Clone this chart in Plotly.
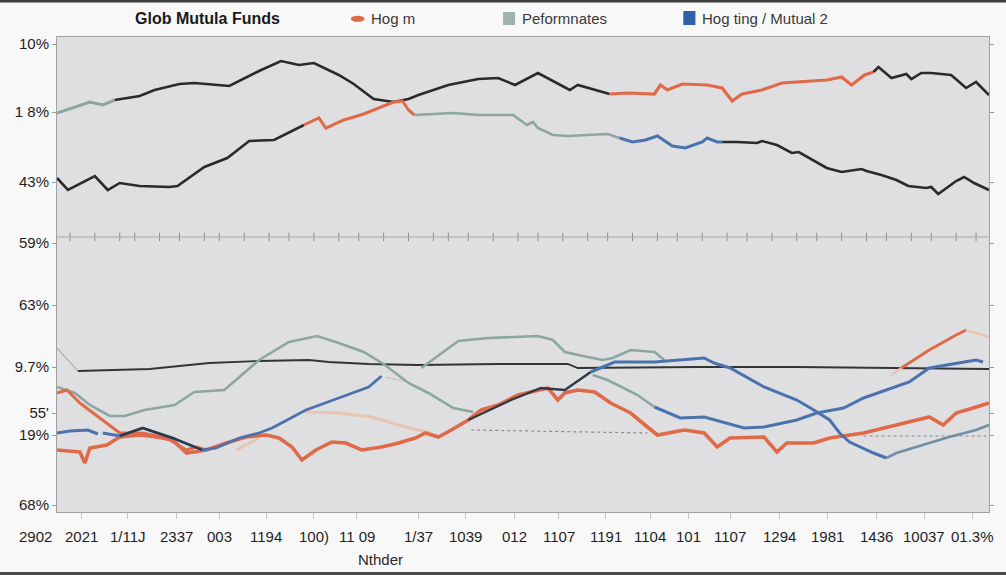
import plotly.graph_objects as go

# ---------------- data (x = period index, y = value %) ----------------
# top panel, upper line (segments by colour)
up_green_x = [5.7, 7.5, 9.0, 10.3, 11.5]
up_green_y = [79.8, 81, 82, 81.4, 82.4]
up_black1_x = [11.5, 14.0, 15.5, 18.0, 19.5, 23.0, 26.2, 28.2, 30.0, 31.5, 34.0, 35.5, 37.5, 39.5, 41.0, 42.0, 45.0, 46.0, 48.0, 50.0, 51.7, 54.0, 57.2, 58.0, 61.2]
up_black1_y = [82.4, 83.2, 84.4, 85.6, 85.8, 85.2, 88.4, 90.2, 89.4, 89.8, 87.4, 85.6, 82.6, 82, 82.6, 83.4, 85.4, 85.8, 86.6, 86.8, 85.4, 87.8, 84.4, 85.4, 83.6]
up_orange_x = [61.2, 63.0, 65.7, 66.3, 67.0, 68.5, 71.0, 72.5, 73.5, 74.5, 76.5, 78.5, 80.0, 83.0, 84.5, 85.5, 86.8, 87.7]
up_orange_y = [83.6, 83.8, 83.6, 85.4, 84.4, 85.6, 85.4, 84.8, 82.2, 83.6, 84.4, 85.8, 86, 86.4, 87, 85.4, 87.4, 88]
up_black2_x = [87.7, 88.2, 89.5, 91.0, 91.5, 92.5, 93.5, 95.5, 97.0, 98.0, 99.3]
up_black2_y = [88, 89, 86.8, 87.6, 86.6, 87.8, 87.8, 87.4, 84.8, 86, 83.4]

# top panel, lower line
lo_black1_x = [5.7, 6.8, 9.5, 10.8, 12.0, 14.0, 17.0, 17.8, 20.5, 22.8, 25.0, 27.5, 30.5]
lo_black1_y = [66.8, 64.4, 67.2, 64.4, 65.8, 65.2, 65, 65.2, 69, 70.8, 74.2, 74.4, 77.4]
lo_orange_x = [30.5, 32.0, 32.7, 34.5, 36.5, 38.0, 39.5, 40.4, 41.0, 41.6]
lo_orange_y = [77.4, 78.8, 76.8, 78.4, 79.6, 80.8, 82, 82.2, 80.4, 79.4]
lo_green_x = [41.6, 44.0, 45.5, 48.0, 51.5, 52.9, 53.5, 54.0, 55.5, 57.0, 61.0, 62.2]
lo_green_y = [79.4, 79.6, 79.8, 79.4, 79.4, 77.4, 78, 76.8, 75.4, 75.2, 75.6, 74.8]
lo_blue_x = [62.2, 63.5, 64.8, 66.0, 67.5, 68.8, 70.5, 71.0, 72.0, 72.5]
lo_blue_y = [74.8, 74, 74.4, 75.2, 73.2, 72.8, 74, 74.8, 74, 74]
lo_black2_x = [72.5, 74.0, 76.0, 76.5, 78.0, 79.5, 80.2, 83.0, 84.5, 86.5, 87.0, 88.5, 90.0, 91.2, 93.0, 93.5, 94.2, 96.0, 96.8, 97.8, 99.3]
lo_black2_y = [74, 74, 73.8, 74.2, 73.4, 71.8, 72, 68.8, 68, 68.6, 68.2, 67.4, 66.4, 65.2, 64.8, 65, 63.6, 66.2, 67, 65.8, 64.4]

# bottom panel
flat_lead_x = [5.7, 7.8]
flat_lead_y = [32.8, 28.2]
flat_x = [7.8, 15, 21, 26, 31, 33, 37, 42, 50, 57, 58, 70, 80, 90.5, 99.3]
flat_y = [28.2, 28.6, 29.8, 30.2, 30.4, 30, 29.6, 29.4, 29.6, 29.6, 28.8, 29, 29, 28.8, 28.6]

perf_a_x = [5.7, 7.5, 9, 11, 12.5, 14.5, 17.5, 19.5, 22.5, 26, 29, 31.8, 34, 36.5, 38.5, 41, 43, 45.5, 47.5]
perf_a_y = [25, 23.8, 21.4, 19.2, 19.2, 20.4, 21.4, 24, 24.4, 30.4, 34, 35.2, 33.8, 32, 29.6, 25.8, 23.8, 20.8, 20]
perf_b_x = [42.3, 44, 46, 49, 54, 55.5, 56.7, 59, 60.5, 61.5, 63.3, 65.7, 66.7]
perf_b_y = [28.8, 31.2, 34.2, 34.8, 35.2, 34.4, 32, 31, 30.4, 30.8, 32.4, 32, 30.4]
perf_c_x = [59.5, 61, 64, 65.7]
perf_c_y = [27.4, 26.4, 23.4, 21]

mut_a_x = [5.7, 7, 8.8, 9.8]
mut_a_y = [15.8, 16.2, 16.4, 15.6]
mut_b_x = [10.3, 12, 14.3, 17.3, 20.3, 21.7, 24, 26, 27.3, 30.7, 34, 37, 38.3]
mut_b_y = [15.8, 15.2, 16.8, 14.8, 12.4, 12.8, 14.8, 15.8, 16.8, 20.4, 22.8, 25, 27.2]
mut_dark_x = [12, 14.3, 17.3, 20.3]
mut_dark_y = [15.2, 16.8, 14.8, 12.4]
mut_c_x = [65.7, 68.3, 70.7, 74.7, 76.7, 80, 82, 84.7, 86.7, 90, 91.3, 93.3, 95, 98, 98.7]
mut_c_y = [21, 18.8, 19, 16.8, 17, 18.4, 19.8, 20.8, 22.8, 25, 26, 28.8, 29.4, 30.4, 30]
mut_d_dark_x = [47, 51.3, 54.3, 56.7, 59.3]
mut_d_dark_y = [18.4, 22.4, 24.8, 24.4, 28]
mut_d_x = [59.3, 61.7, 65.7, 70.7, 71.7, 73.3, 76.7, 80, 81.7, 83.3, 84.3, 85.3, 87.7, 89]
mut_d_y = [28, 30, 30, 30.8, 29.8, 28.8, 25, 22.4, 20.4, 18.4, 15.8, 14, 11.8, 10.8]
mut_d_end_x = [89, 90, 93.3, 95.3, 98, 99.3]
mut_d_end_y = [10.8, 11.8, 13.8, 15, 16.4, 17.4]

hog_a_x = [5.7, 6.7, 8, 10.7, 12, 14.3, 16.7, 18.7, 19.7, 20.7]
hog_a_y = [23.8, 24.4, 21.8, 17.8, 15.8, 15.8, 14.8, 12.4, 13, 12.4]
hog_b_x = [5.7, 8, 8.5, 9, 10.7, 12, 14, 15.7, 17.3, 18.7, 20.7, 22.7, 24.7, 26.7, 28, 29.3, 30.3, 31.7, 33.3, 34.7, 36.3, 38.3, 40, 41.7, 42.7, 44, 45.3, 47, 48.3, 50, 52, 55, 56, 56.7, 58, 59.7, 61.3, 63.3, 65, 66, 68.7, 70.7, 72, 73.3, 76.7, 78, 79, 81.7, 83.3, 86.7, 90, 92, 93.3, 94.7, 96, 97.7, 99.3]
hog_b_y = [12.4, 12, 9.8, 12.8, 13.4, 15, 15.4, 15, 14.4, 11.8, 12.4, 13.8, 15, 15.4, 14.8, 13, 10.4, 12.4, 14, 13.8, 12.4, 13, 13.8, 14.8, 15.8, 15, 16.4, 18.4, 20.4, 21.4, 23.4, 24.8, 22.4, 23.8, 24.4, 24, 21.8, 19.8, 17, 15.4, 16.4, 15.8, 13, 14.8, 15, 12, 13.8, 13.8, 14.8, 15.8, 17.4, 18.4, 19, 17.4, 19.8, 20.8, 21.8]
hog_c_x = [90.5, 93.3, 96, 97]
hog_c_y = [28.8, 32.4, 35.4, 36.4]
tan_a_x = [89.5, 90.5]
tan_a_y = [27.4, 28.8]
tan_b_x = [97, 99.3]
tan_b_y = [36.4, 35]
tan_c_x = [30.7, 34, 37.3, 40.7, 43.3]
tan_c_y = [20, 19.8, 19, 17, 15.8]
tan_d_x = [23.7, 26]
tan_d_y = [12.4, 14.8]
faint_x = [38.7, 41]
faint_y = [27, 26]
dot_a_x = [47.3, 65]
dot_a_y = [16.4, 15.8]
dot_b_x = [86.7, 99.3]
dot_b_y = [15.2, 15.2]

# separator between panels
sep_value = 55
sep_ticks = [7, 9.5, 12, 13.5, 16, 18, 20.5, 22, 24.5, 27, 29, 31.5, 34, 36, 38.5, 41, 43.5, 45, 47, 49.5, 52,
             54, 56.5, 59, 61, 63.5, 66, 68, 70.5, 73, 75, 77.5, 80, 82, 84.5, 87, 89, 91.5, 93.5, 96, 98]

# axis labels
y_tick_vals = [93.6, 80, 66, 53.8, 41.4, 29, 19.8, 15.4, 1.4]
y_tick_text = ["10%", "1 8%", "43%", "59%", "63%", "9.7%", "55'", "19%", "68%"]
x_label_pos = [3.5, 8.2, 12.8, 17.7, 22.0, 26.7, 31.5, 35.8, 42.0, 46.7, 51.6, 56.1, 60.8, 65.3, 69.1, 73.3, 78.3, 83.1, 88.0, 92.8, 97.6]
x_label_text = ["2902", "2021", "1/11J", "2337", "003", "1194", "100)", "11 09", "1/37", "1039", "012", "1107",
                "1191", "1104", "101", "1107", "1294", "1981", "1436", "10037", "01.3%"]

X_MIN, X_MAX = 5.7, 99.3

# ---------------- styles ----------------
BLACK = "#2a2a2c"
ORANGE = "#e06a48"
GREEN = "#8ca79f"
BLUE = "#4a72ad"
DARK = "#2f3946"
TAN = "#e8c4b2"
FONT_N = "Liberation Sans Narrow, Liberation Sans, sans-serif"

fig = go.Figure()

def line(x, y, color, width, dash=None):
    fig.add_trace(go.Scatter(x=x, y=y, mode="lines", showlegend=False, hoverinfo="skip",
                             line=dict(color=color, width=width, dash=dash)))

# top panel
line(up_green_x, up_green_y, GREEN, 3)
line(up_black1_x, up_black1_y, BLACK, 2.6)
line(up_orange_x, up_orange_y, ORANGE, 3.2)
line(up_black2_x, up_black2_y, BLACK, 2.6)
line(lo_black1_x, lo_black1_y, BLACK, 2.6)
line(lo_orange_x, lo_orange_y, ORANGE, 3)
line(lo_green_x, lo_green_y, GREEN, 2.6)
line(lo_blue_x, lo_blue_y, BLUE, 3)
line(lo_black2_x, lo_black2_y, BLACK, 2.6)

# bottom panel
line(flat_lead_x, flat_lead_y, "#b0b0b4", 1.2)
line(flat_x, flat_y, "#333436", 1.8)
line(dot_a_x, dot_a_y, "#8a8a8e", 1.2, dash="dot")
line(dot_b_x, dot_b_y, "#8a8a8e", 1.2, dash="dot")
line(tan_c_x, tan_c_y, TAN, 3)
line(tan_d_x, tan_d_y, TAN, 3)
line(faint_x, faint_y, "#c9c9cc", 1.5)
line(perf_a_x, perf_a_y, GREEN, 2.6)
line(perf_b_x, perf_b_y, GREEN, 2.6)
line(perf_c_x, perf_c_y, GREEN, 2.6)
line(hog_a_x, hog_a_y, ORANGE, 3)
line(hog_b_x, hog_b_y, ORANGE, 3.6)
line(mut_a_x, mut_a_y, BLUE, 3)
line(mut_b_x, mut_b_y, BLUE, 2.8)
line(mut_dark_x, mut_dark_y, DARK, 2.4)
line(mut_c_x, mut_c_y, BLUE, 3)
line(mut_d_dark_x, mut_d_dark_y, DARK, 2.4)
line(mut_d_x, mut_d_y, BLUE, 3)
line(mut_d_end_x, mut_d_end_y, "#6e8fa6", 2.8)
line(hog_c_x, hog_c_y, ORANGE, 3)
line(tan_a_x, tan_a_y, TAN, 2.5)
line(tan_b_x, tan_b_y, TAN, 2.5)

# separator ticks
fig.add_trace(go.Scatter(x=sep_ticks, y=[sep_value] * len(sep_ticks), mode="markers", showlegend=False,
                         hoverinfo="skip",
                         marker=dict(symbol="line-ns", size=6, line=dict(color="#8d8d91", width=1))))
fig.add_hline(y=sep_value, line=dict(color="#a4a4a8", width=1))

# x tick labels as annotations (the first lies left of the plot area)
for xp, t in zip(x_label_pos, x_label_text):
    fig.add_annotation(x=(xp - X_MIN) / (X_MAX - X_MIN), y=-0.052, xref="paper", yref="paper", text=t,
                       showarrow=False, font=dict(family=FONT_N, size=15, color="#1f1f1f"),
                       xanchor="center", yanchor="middle")

# axis title
fig.add_annotation(x=0.347, y=-0.101, xref="paper", yref="paper", text="Nthder", showarrow=False,
                   xanchor="center", yanchor="middle",
                   font=dict(family=FONT_N, size=15, color="#2a2a2a"))

# title and legend
fig.add_annotation(x=0.161, y=1.038, xref="paper", yref="paper", text="<b>Glob Mutula Funds</b>", showarrow=False,
                   xanchor="center", yanchor="middle", font=dict(family=FONT_N, size=16, color="#1a1a1a"))
fig.add_shape(type="circle", xref="paper", yref="paper", x0=0.3152, x1=0.3300, y0=1.0320, y1=1.0450,
              fillcolor=ORANGE, line=dict(width=0))
fig.add_annotation(x=0.3344, y=1.038, xref="paper", yref="paper", text="Hog m", showarrow=False,
                   xanchor="left", yanchor="middle", font=dict(family=FONT_N, size=15, color="#3a3a3a"))
fig.add_shape(type="rect", xref="paper", yref="paper", x0=0.4786, x1=0.4915, y0=1.0253, y1=1.0526,
              fillcolor="#9fb2ae", line=dict(width=0))
fig.add_annotation(x=0.4968, y=1.038, xref="paper", yref="paper", text="Peformnates", showarrow=False,
                   xanchor="left", yanchor="middle", font=dict(family=FONT_N, size=15, color="#3a3a3a"))
fig.add_shape(type="rect", xref="paper", yref="paper", x0=0.6720, x1=0.6850, y0=1.0253, y1=1.0547,
              fillcolor="#2f60aa", line=dict(width=0))
fig.add_annotation(x=0.6900, y=1.038, xref="paper", yref="paper", text="Hog ting / Mutual 2", showarrow=False,
                   xanchor="left", yanchor="middle", font=dict(family=FONT_N, size=15, color="#3a3a3a"))

# image frame bands top and bottom
fig.add_shape(type="line", xref="paper", yref="paper", x0=-0.07, x1=1.02, y0=1.0758, y1=1.0758,
              line=dict(color="#3c3c3e", width=3))
fig.add_shape(type="line", xref="paper", yref="paper", x0=-0.07, x1=1.02, y0=-0.1295, y1=-0.1295,
              line=dict(color="#4a4a4c", width=3))

fig.update_layout(
    width=1006, height=575,
    margin=dict(l=57, r=13, t=37, b=63),
    paper_bgcolor="#f8f8f8",
    plot_bgcolor="#dfdfe1",
    showlegend=False,
    xaxis=dict(range=[X_MIN, X_MAX], showgrid=False, zeroline=False, showline=True, linecolor="#a2a2a6",
               mirror=True, tickvals=x_label_pos, ticktext=[""] * len(x_label_pos), ticks="outside",
               ticklen=6, tickcolor="#c4c4c8"),
    yaxis=dict(range=[0, 95], showgrid=False, zeroline=False, showline=True, linecolor="#a2a2a6",
               mirror="ticks", tickvals=y_tick_vals, ticktext=y_tick_text, ticks="outside", ticklen=4,
               tickcolor="#9a9a9e",
               tickfont=dict(family=FONT_N, size=15, color="#1f1f1f")),
)

fig.write_html("out.html", config={"displayModeBar": False},
               post_script="document.body.style.margin='0';")
